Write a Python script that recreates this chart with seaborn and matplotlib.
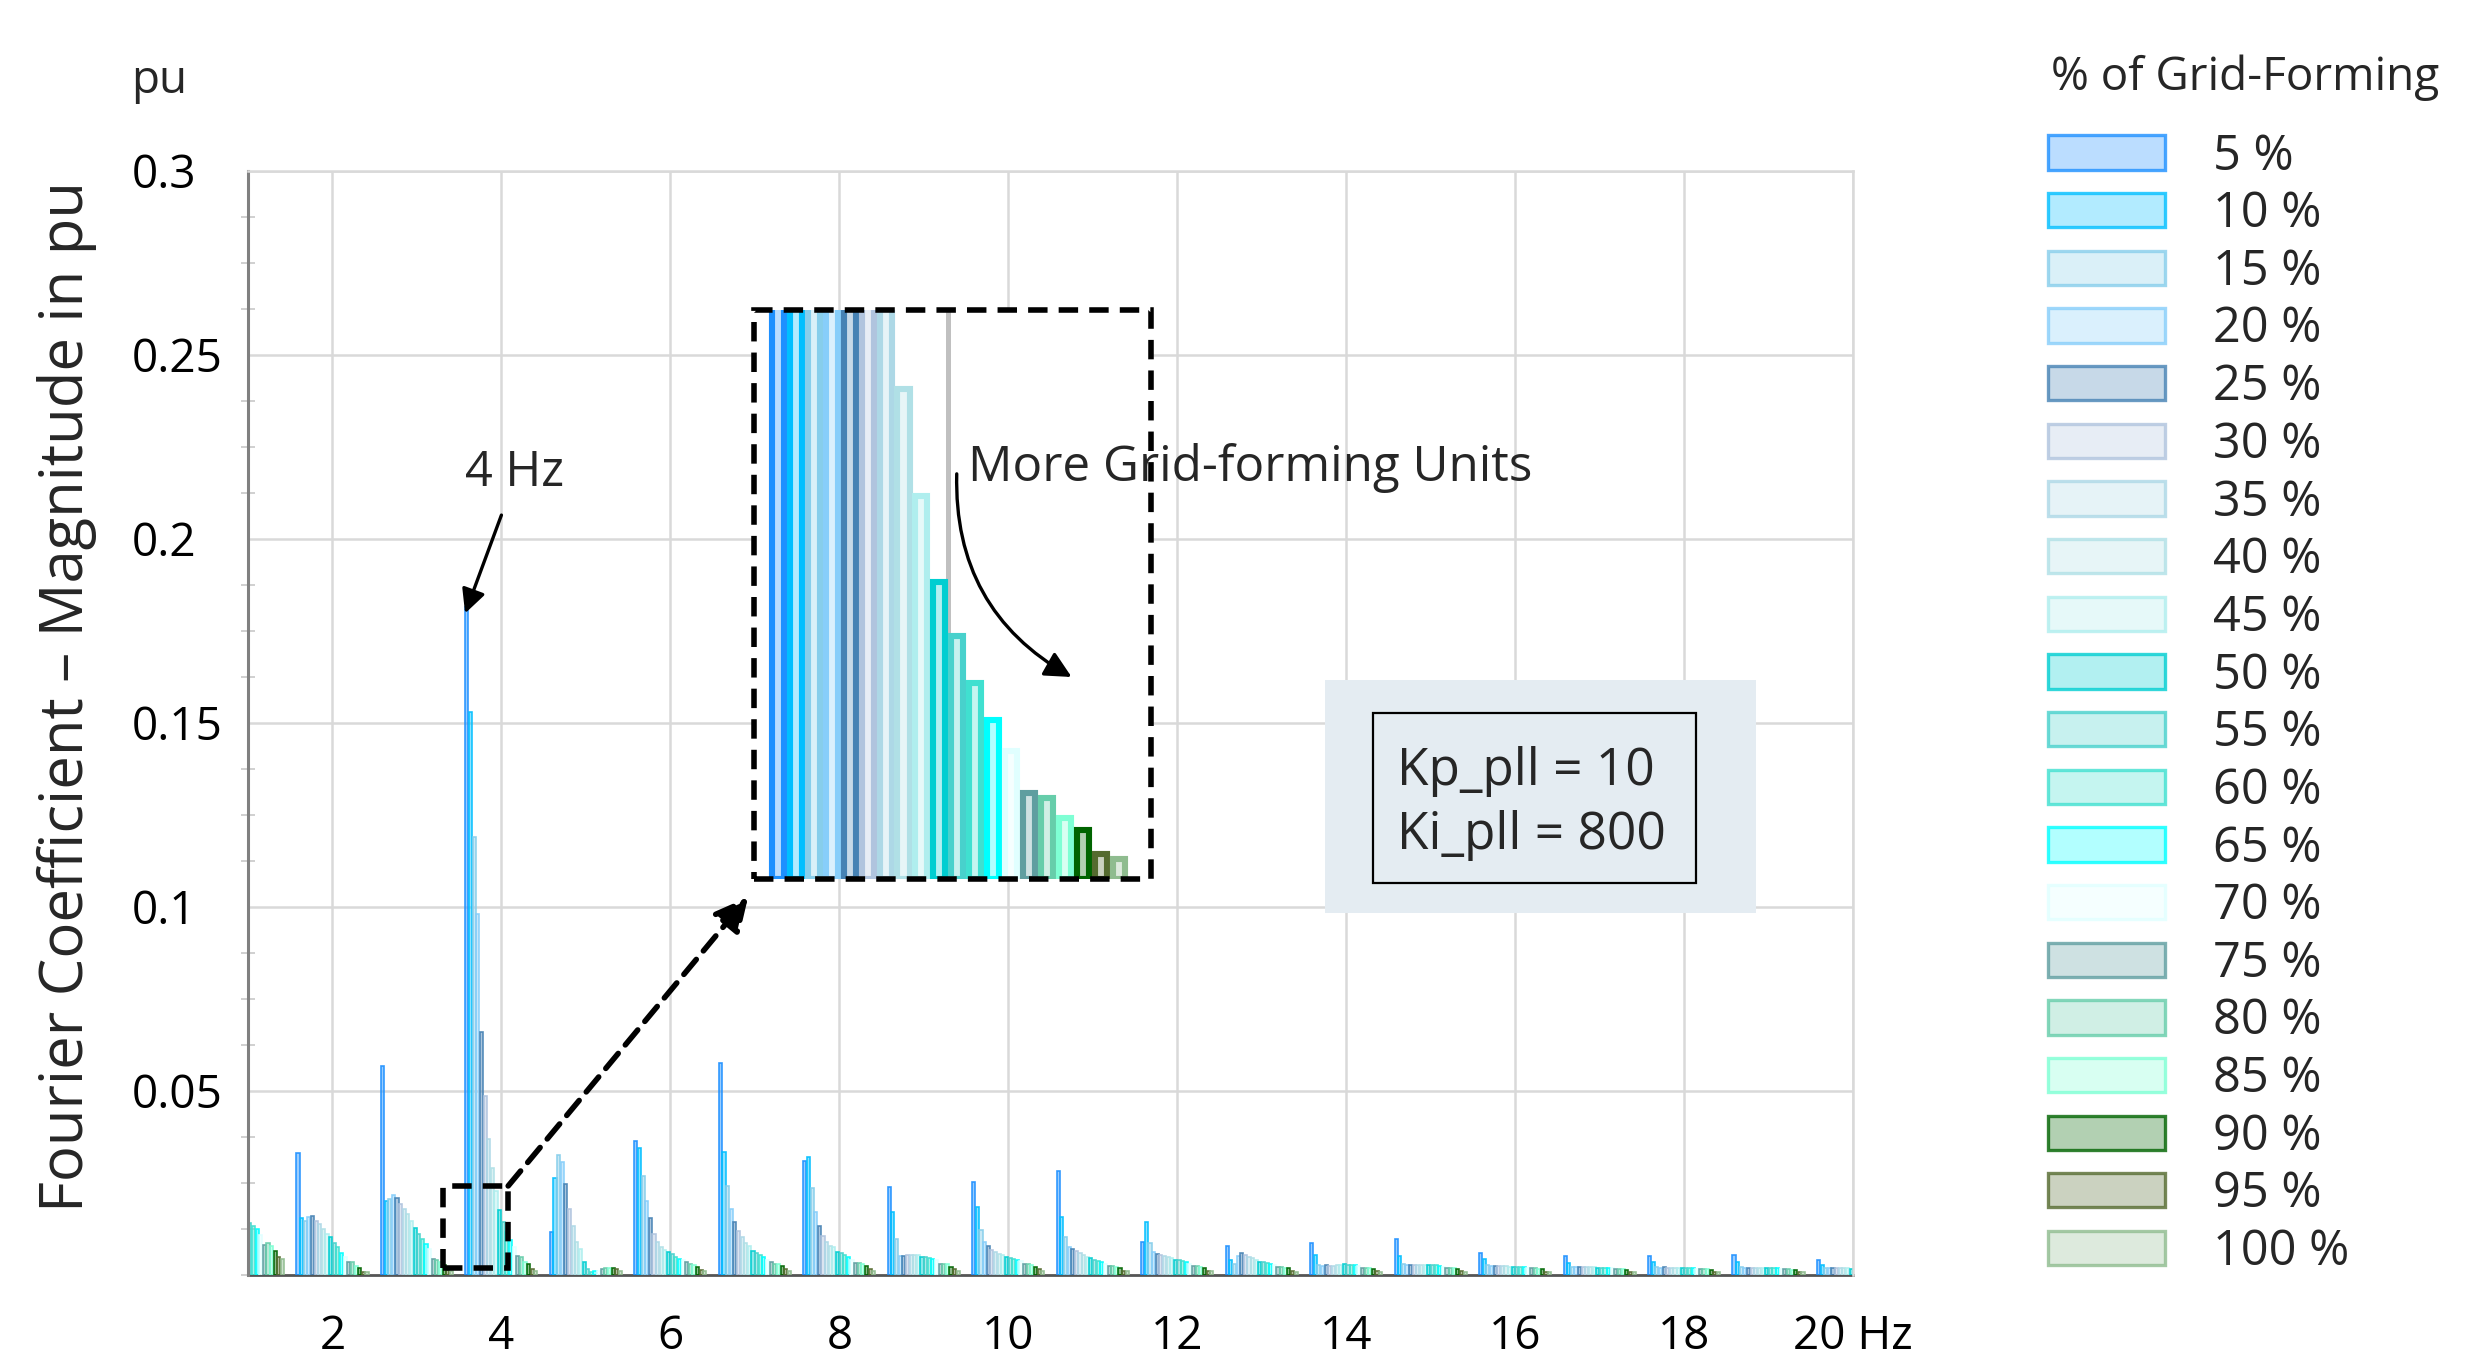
import matplotlib
matplotlib.use("Agg")
import matplotlib.pyplot as plt
import matplotlib.patches as mpatches
from matplotlib.colors import to_rgba
from matplotlib.ticker import MultipleLocator
import pandas as pd
import seaborn as sns


shares = ["5 %", "10 %", "15 %", "20 %", "25 %", "30 %", "35 %", "40 %", "45 %", "50 %",
	"55 %", "60 %", "65 %", "70 %", "75 %", "80 %", "85 %", "90 %", "95 %", "100 %"]

colors = ["dodgerblue", "deepskyblue", "skyblue", "lightskyblue", "steelblue",
	"lightsteelblue", "lightblue", "powderblue", "paleturquoise", "darkturquoise",
	"mediumturquoise", "turquoise", "cyan", "lightcyan", "cadetblue",
	"mediumaquamarine", "aquamarine", "darkgreen", "darkolivegreen", "darkseagreen"]

freqs = list(range(1, 21))
freq_labels = ["2", "4", "6", "8", "10", "12", "14", "16", "18", "20 Hz"]

# magnitude in pu for each frequency, ordered 5 % ... 100 % grid-forming
hz01 = [0.0210, 0.0190, 0.0180, 0.0180, 0.0170, 0.0170, 0.0160, 0.0160, 0.0150, 0.0145,
	0.0140, 0.0134, 0.0125, 0.0110, 0.0082, 0.0087, 0.0080, 0.0066, 0.0050, 0.0044]
hz02 = [0.0332, 0.0154, 0.0148, 0.0157, 0.0159, 0.0148, 0.0139, 0.0125, 0.0111, 0.0102,
	0.0088, 0.0075, 0.0061, 0.0050, 0.0035, 0.0036, 0.0025, 0.0018, 0.0009, 0.0007]
hz03 = [0.0567, 0.0202, 0.0206, 0.0217, 0.0208, 0.0193, 0.0179, 0.0166, 0.0148, 0.0127,
	0.0111, 0.0098, 0.0084, 0.0070, 0.0043, 0.0042, 0.0035, 0.0026, 0.0013, 0.0010]
hz04 = [0.1815, 0.1530, 0.1190, 0.0980, 0.0660, 0.0487, 0.0370, 0.0290, 0.0227, 0.0176,
	0.0144, 0.0116, 0.0094, 0.0076, 0.0051, 0.0048, 0.0036, 0.0029, 0.0015, 0.0012]
hz05 = [0.0116, 0.0263, 0.0326, 0.0308, 0.0247, 0.0180, 0.0134, 0.0089, 0.0070, 0.0035,
	0.0016, 0.0008, 0.0010, 0.0012, 0.0016, 0.0018, 0.0020, 0.0020, 0.0015, 0.0010]
hz06 = [0.0365, 0.0345, 0.0270, 0.0200, 0.0154, 0.0111, 0.0089, 0.0076, 0.0067, 0.0062,
	0.0057, 0.0048, 0.0044, 0.0040, 0.0035, 0.0030, 0.0027, 0.0022, 0.0013, 0.0010]
hz07 = [0.0575, 0.0335, 0.0243, 0.0179, 0.0145, 0.0120, 0.0102, 0.0088, 0.0079, 0.0066,
	0.0060, 0.0054, 0.0048, 0.0040, 0.0034, 0.0031, 0.0030, 0.0025, 0.0016, 0.0012]
hz08 = [0.0311, 0.0320, 0.0236, 0.0170, 0.0132, 0.0105, 0.0089, 0.0080, 0.0075, 0.0063,
	0.0060, 0.0054, 0.0048, 0.0040, 0.0033, 0.0032, 0.0030, 0.0025, 0.0016, 0.0012]
hz09 = [0.0238, 0.0170, 0.0098, 0.0052, 0.0051, 0.0054, 0.0054, 0.0054, 0.0053, 0.0050,
	0.0048, 0.0046, 0.0044, 0.0040, 0.0030, 0.0030, 0.0029, 0.0023, 0.0016, 0.0012]
hz10 = [0.0254, 0.0184, 0.0121, 0.0089, 0.0078, 0.0069, 0.0063, 0.0058, 0.0054, 0.0050,
	0.0047, 0.0044, 0.0041, 0.0037, 0.0030, 0.0029, 0.0027, 0.0022, 0.0015, 0.0011]
hz11 = [0.0283, 0.0158, 0.0102, 0.0077, 0.0070, 0.0064, 0.0060, 0.0055, 0.0050, 0.0045,
	0.0041, 0.0037, 0.0034, 0.0030, 0.0025, 0.0024, 0.0023, 0.0020, 0.0012, 0.0010]
hz12 = [0.0090, 0.0145, 0.0088, 0.0062, 0.0058, 0.0054, 0.0051, 0.0048, 0.0045, 0.0042,
	0.0040, 0.0037, 0.0035, 0.0030, 0.0025, 0.0024, 0.0022, 0.0020, 0.0012, 0.0010]
hz13 = [0.0079, 0.0042, 0.0030, 0.0052, 0.0060, 0.0055, 0.0050, 0.0045, 0.0040, 0.0036,
	0.0034, 0.0032, 0.0030, 0.0027, 0.0022, 0.0021, 0.0020, 0.0018, 0.0011, 0.0009]
hz14 = [0.0086, 0.0055, 0.0028, 0.0025, 0.0026, 0.0025, 0.0025, 0.0026, 0.0027, 0.0029,
	0.0028, 0.0027, 0.0026, 0.0024, 0.0020, 0.0020, 0.0019, 0.0017, 0.0010, 0.0008]
hz15 = [0.0097, 0.0052, 0.0030, 0.0028, 0.0028, 0.0028, 0.0028, 0.0027, 0.0027, 0.0027,
	0.0026, 0.0026, 0.0025, 0.0023, 0.0020, 0.0020, 0.0019, 0.0017, 0.0010, 0.0008]
hz16 = [0.0059, 0.0043, 0.0026, 0.0025, 0.0025, 0.0024, 0.0024, 0.0024, 0.0023, 0.0023,
	0.0023, 0.0022, 0.0022, 0.0020, 0.0018, 0.0018, 0.0017, 0.0016, 0.0009, 0.0008]
hz17 = [0.0052, 0.0032, 0.0022, 0.0022, 0.0022, 0.0021, 0.0021, 0.0021, 0.0021, 0.0020,
	0.0020, 0.0020, 0.0020, 0.0018, 0.0016, 0.0016, 0.0015, 0.0014, 0.0009, 0.0007]
hz18 = [0.0052, 0.0035, 0.0021, 0.0020, 0.0021, 0.0020, 0.0020, 0.0020, 0.0020, 0.0019,
	0.0019, 0.0019, 0.0019, 0.0017, 0.0015, 0.0015, 0.0015, 0.0014, 0.0009, 0.0007]
hz19 = [0.0054, 0.0035, 0.0021, 0.0020, 0.0020, 0.0020, 0.0019, 0.0019, 0.0019, 0.0019,
	0.0018, 0.0018, 0.0018, 0.0017, 0.0015, 0.0015, 0.0014, 0.0013, 0.0008, 0.0007]
hz20 = [0.0040, 0.0028, 0.0019, 0.0018, 0.0019, 0.0018, 0.0018, 0.0018, 0.0018, 0.0017,
	0.0017, 0.0017, 0.0017, 0.0016, 0.0014, 0.0014, 0.0013, 0.0012, 0.0008, 0.0006]

spectrum = [hz01, hz02, hz03, hz04, hz05, hz06, hz07, hz08, hz09, hz10,
	hz11, hz12, hz13, hz14, hz15, hz16, hz17, hz18, hz19, hz20]

rows = []
for f, vals in zip(freqs, spectrum):
	for s, v in zip(shares, vals):
		rows.append((f, s, v))
df = pd.DataFrame(rows, columns=["freq", "share", "pu"])


sns.set_theme(style="white")
plt.rcParams["font.family"] = ["Open Sans", "DejaVu Sans"]

W, H = 2480, 1356
fig = plt.figure(figsize=(12.4, 6.78), dpi=200)


def fx(px):
	return px / W


def fy(py):
	return 1 - py / H


def draw_bars(axis, gap, lw, face_alpha, edge_alpha):
	sns.barplot(data=df, x="freq", y="pu", hue="share", hue_order=shares,
		palette=colors, width=0.86, gap=gap, errorbar=None, legend=False, ax=axis)
	for c, cont in zip(colors, axis.containers):
		for bar in cont:
			bar.set_facecolor(to_rgba(c, face_alpha))
			bar.set_edgecolor(to_rgba(c, edge_alpha))
			bar.set_linewidth(lw)


# main axes
ax = fig.add_axes([fx(248), fy(1275), fx(1853) - fx(248), fy(171) - fy(1275)])
draw_bars(ax, 0.15, 0.6, 0.45, 0.9)

ax.set_xlim(0, 19)
ax.set_ylim(0, 0.3)
ax.set_xticks(range(1, 20, 2), labels=freq_labels)
ax.set_yticks([0.05, 0.1, 0.15, 0.2, 0.25, 0.3],
	labels=["0.05", "0.1", "0.15", "0.2", "0.25", "0.3"])
ax.yaxis.set_minor_locator(MultipleLocator(0.0125))
ax.grid(True, which="major", color="#d9d9d9", lw=0.9)
ax.set_axisbelow(True)

ax.tick_params(axis="both", which="major", labelsize=16.5, length=0, labelcolor="black")
ax.tick_params(axis="x", pad=14)
ax.tick_params(axis="y", pad=42)
ax.tick_params(axis="y", which="minor", left=True, length=5, width=0.6,
	color="#c8c8c8", direction="inout")
for t in ax.get_yticklabels():
	t.set_ha("left")

ax.set_xlabel("")
ax.set_ylabel("Fourier Coefficient \u2013 Magnitude in pu", fontsize=21.5)
ax.yaxis.set_label_coords(-0.094, 0.524)

ax.spines["left"].set_color("#808080")
ax.spines["left"].set_linewidth(1.1)
ax.spines["bottom"].set_color("#555555")
ax.spines["bottom"].set_linewidth(1.0)
ax.spines["bottom"].set_zorder(0.6)
for side in ["top", "right"]:
	ax.spines[side].set_color("#d9d9d9")
	ax.spines[side].set_linewidth(0.9)

fig.text(fx(131), fy(81), "pu", fontsize=16.5, va="center", ha="left")

# zoom marker around the 4 Hz group and dashed arrow to inset
ax.add_patch(mpatches.Rectangle((2.31, 0.002), 0.77, 0.0222, fill=False,
	ls=(0, (3.5, 2)), lw=2, ec="black", zorder=5))
ax.annotate("", xy=(5.92, 0.1027), xytext=(3.08, 0.0242),
	arrowprops=dict(arrowstyle="-|>", lw=2, ls=(0, (3.5, 2)), color="black",
		mutation_scale=25, shrinkA=0, shrinkB=0))

ax.text(3.15, 0.2180, "4 Hz", ha="center", va="center", fontsize=17.5)
ax.annotate("", xy=(2.57, 0.1798), xytext=(3.0, 0.2065),
	arrowprops=dict(arrowstyle="-|>", lw=1.2, color="black",
		mutation_scale=18, shrinkA=0, shrinkB=0))

# inset
axins = fig.add_axes([fx(754), fy(879), fx(1151) - fx(754), fy(310) - fy(879)])
draw_bars(axins, 0.33, 2.2, 0.3, 1.0)
axins.set_xlim(2.534, 3.486)
axins.set_ylim(0, 0.0337)
axins.set_xticks([3])
axins.set_xticklabels([])
axins.set_yticks([])
axins.grid(True, axis="x", color="#c0c0c0", lw=1.8)
axins.set_axisbelow(True)
axins.tick_params(length=0)
axins.set_xlabel("")
axins.set_ylabel("")
for side in axins.spines.values():
	side.set_visible(False)
axins.add_patch(mpatches.Rectangle((0, 0), 1, 1, transform=axins.transAxes,
	fill=False, ls=(0, (3.5, 2)), lw=2, ec="black", clip_on=False, zorder=5))

axins.text(8.52, 0.2192, "More Grid-forming Units", transform=ax.transData,
	ha="left", va="center", fontsize=17.8, clip_on=False, zorder=6)
axins.annotate("", xy=(9.75, 0.1625), xytext=(8.39, 0.2177),
	xycoords=ax.transData, textcoords=ax.transData, annotation_clip=False,
	arrowprops=dict(arrowstyle="-|>", connectionstyle="arc3,rad=0.3", lw=1.2,
		color="black", mutation_scale=20, shrinkA=0, shrinkB=0))

# parameter box
fig.add_artist(mpatches.Rectangle((fx(1325), fy(913)), fx(1756) - fx(1325),
	fy(680) - fy(913), transform=fig.transFigure, fc="#e4ecf2", ec="none"))
fig.add_artist(mpatches.Rectangle((fx(1373), fy(883)), fx(1696) - fx(1373),
	fy(713) - fy(883), transform=fig.transFigure, fill=False, ec="black", lw=0.8))
fig.text(fx(1397), fy(785), "Kp_pll = 10", fontsize=18.5, va="baseline")
fig.text(fx(1397), fy(849), "Ki_pll = 800", fontsize=18.5, va="baseline")

# legend
handles = [mpatches.Patch(facecolor=to_rgba(c, 0.3), edgecolor=to_rgba(c, 0.8), lw=1.2)
	for c in colors]
fig.text(fx(2051), fy(78), "% of Grid-Forming", fontsize=16.5, va="center", ha="left")
fig.legend(handles, shares, loc="upper left", bbox_to_anchor=(fx(2048), fy(132)),
	frameon=False, fontsize=17.5, handlelength=2.4, handleheight=0.7,
	handletextpad=1.0, labelspacing=0.168, borderpad=0, borderaxespad=0)

fig.savefig("out.png", dpi=200)
